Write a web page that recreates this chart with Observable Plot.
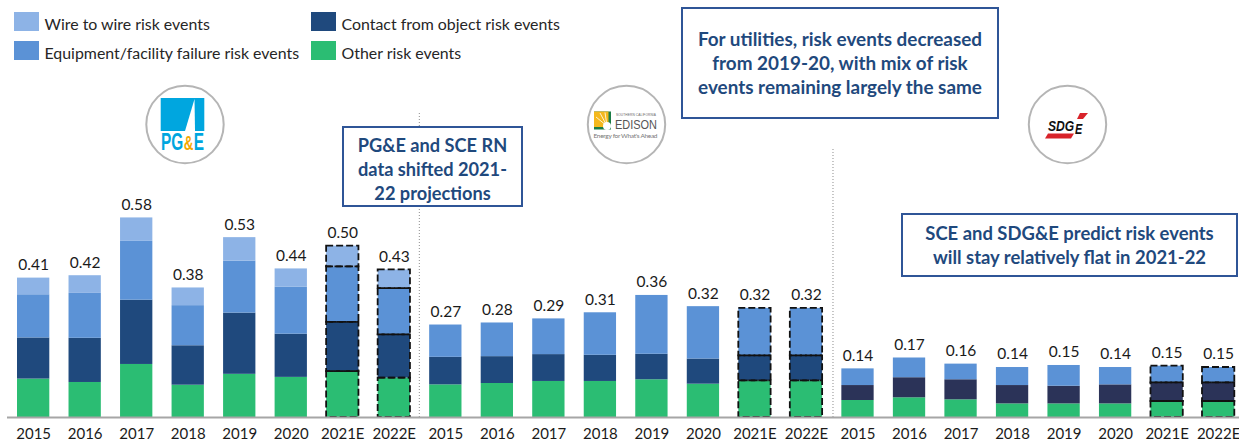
<!DOCTYPE html>
<html><head><meta charset="utf-8">
<script src="https://cdn.jsdelivr.net/npm/d3@7"></script>
<script src="https://cdn.jsdelivr.net/npm/@observablehq/plot@0.6"></script>
<style>
html,body{margin:0;padding:0;background:#fff;overflow:hidden}
#wrap{position:relative;width:1239px;height:443px;font-family:Lato,sans-serif}
#wrap svg{display:block}
.box{position:absolute;box-sizing:border-box;border:2px solid #2f5597;background:#fff;color:#1f497d;font-weight:700;text-align:center;display:flex;align-items:center;justify-content:center;line-height:24px}
.sw{position:absolute;width:25px;height:19px}
.lg{position:absolute;font-size:15.9px;color:#262626;line-height:20px;white-space:nowrap}
</style></head><body><div id="wrap"></div>
<script>
const years = ["2015","2016","2017","2018","2019","2020","2021E","2022E"];
const utilities = ["PG&E","SCE","SDG&E"];
const totals = {
  "PG&E": [0.41,0.42,0.58,0.38,0.53,0.44,0.50,0.43],
  "SCE": [0.27,0.28,0.29,0.31,0.36,0.32,0.32,0.32],
  "SDG&E": [0.14,0.17,0.16,0.14,0.15,0.14,0.15,0.15]
};
const other = {
  "PG&E": [.113,.103,.156,.095,.127,.118,.135,.116],
  "SCE": [.096,.100,.106,.106,.111,.098,.108,.108],
  "SDG&E": [.050,.058,.052,.040,.040,.040,.047,.047]
};
const contact = {
  "PG&E": [.121,.130,.189,.116,.180,.127,.145,.127],
  "SCE": [.081,.079,.079,.077,.075,.074,.073,.073],
  "SDG&E": [.044,.059,.059,.054,.052,.056,.055,.055]
};
const equipment = {
  "PG&E": [.127,.132,.173,.118,.153,.138,.163,.136],
  "SCE": [.095,.099,.105,.125,.173,.154,.140,.140],
  "SDG&E": [.049,.058,.046,.053,.061,.051,.049,.045]
};
const wire = {
  "PG&E": [.049,.052,.069,.052,.069,.054,.061,.055],
  "SCE": [0,0,0,0,0,0,0,0],
  "SDG&E": [0,0,0,0,0,0,0,0]
};
const seriesNames = ["Other risk events","Contact from object risk events","Equipment/facility failure risk events","Wire to wire risk events"];
const seriesValues = [other,contact,equipment,wire];
const seriesColors = ["#2bbd73","#1f497d","#5b92d6","#8db3e6"];
const sdgeContact = "#2b3358";

const key = (u,y) => u+" "+y;
const domain = utilities.flatMap(u => years.map(y => key(u,y)));
const rows = [];
utilities.forEach(u => years.forEach((y,i) => seriesNames.forEach((s,k) => {
  const value = seriesValues[k][u][i];
  if (value > 0) rows.push({key:key(u,y), utility:u, year:y, series:s, value,
    color:(u==="SDG&E" && k===1) ? sdgeContact : seriesColors[k],
    projected:y.endsWith("E")});
})));
const labels = utilities.flatMap(u => years.map((y,i) => {
  const stackTop = seriesValues.reduce((a,s) => a + s[u][i], 0);
  return {key:key(u,y), top:stackTop, text:totals[u][i].toFixed(2)};
}));
const stack = {x:"key", y:"value", z:"series", order:seriesNames};
const chart = Plot.plot({
  width:1239, height:443,
  marginLeft:17, marginRight:4.7, marginTop:0, marginBottom:26,
  style:{fontFamily:"Lato, sans-serif", background:"transparent"},
  x:{domain, paddingInner:0.373, paddingOuter:0, round:false, label:null},
  y:{domain:[0,417/340], axis:null},
  marks:[
    Plot.ruleX(["SCE 2015"],{x:d=>d,y1:0,y2:0.897,dx:-26.5,stroke:"#8c8c8c",strokeDasharray:"1,2",strokeWidth:1}),
    Plot.ruleX(["SDG&E 2015"],{x:d=>d,y1:0,y2:0.79,dx:-25,stroke:"#8c8c8c",strokeDasharray:"1,2",strokeWidth:1}),
    Plot.barY(rows, Plot.stackY({...stack, fill:"color"})),
    Plot.barY(rows.filter(d=>d.projected), Plot.stackY({...stack, stroke:"#111", strokeWidth:1.8, strokeDasharray:"7,3", fill:"none"})),
    Plot.ruleY([0],{stroke:"#a6a6a6",strokeWidth:2,insetLeft:-10,insetRight:-4.7}),
    Plot.text(labels,{x:"key",y:"top",text:"text",dy:-13,fontSize:15.5,fill:"#1a1a1a"}),
    Plot.axisX({tickSize:0,tickPadding:11,fontSize:15,tickFormat:d=>d.split(" ")[1],fill:"#1a1a1a",label:null})
  ]
});
const wrap = document.getElementById("wrap");
wrap.appendChild(chart);

function add(cls,style,html){const e=document.createElement("div");e.className=cls;e.style.cssText=style;if(html)e.innerHTML=html;wrap.appendChild(e);}
[["#8db3e6","Wire to wire risk events",14,12],["#5b92d6","Equipment/facility failure risk events",14,41],
 ["#1f497d","Contact from object risk events",311,12],["#2bbd73","Other risk events",311,41]].forEach(([c,t,x,y])=>{
  add("sw",`left:${x}px;top:${y}px;background:${c}`);
  add("lg",`left:${x+30.5}px;top:${y+(y<20?1.5:2)}px`,t);
});
add("box","left:342px;top:126px;width:181px;height:81px;font-size:18.2px;padding-top:4px","<div>PG&amp;E and SCE RN<br>data shifted 2021-<br>22 projections</div>");
add("box","left:681px;top:7px;width:318px;height:112px;font-size:18.9px","<div>For utilities, risk events decreased<br>from 2019-20, with mix of risk<br>events remaining largely the same</div>");
add("box","left:901px;top:213px;width:337px;height:64px;font-size:18.45px","<div>SCE and SDG&amp;E predict risk events<br>will stay relatively flat in 2021-22</div>");
const logos=document.createElement("div");
logos.innerHTML=`<svg width="1239" height="443" style="position:absolute;left:0;top:0;pointer-events:none">
<g fill="#fff" stroke="#b5b5b5" stroke-width="2"><circle cx="185" cy="124.5" r="38.7"/><circle cx="626.5" cy="124.5" r="38.7"/><circle cx="1067.5" cy="124.5" r="38.7"/></g>
<g><rect x="160.7" y="98" width="43.6" height="33" fill="#00a6df"/><path d="M194.5 99 L185 131 L195 131 Z" fill="#fff"/>
<g transform="translate(161,149.5) scale(.67,1)" font-family="'Liberation Sans',sans-serif" font-weight="700" font-size="23">
<text x="0" y="0" fill="#00a6df">PG</text>
<text x="34" y="0" font-size="20" fill="#f5a800">&amp;</text>
<text x="49" y="0" fill="#00a6df">E</text></g></g>
<g><rect x="594" y="111.5" width="17" height="18" fill="#1c7d46"/><rect x="594" y="111.5" width="14.5" height="15.5" fill="#f4b81c"/>
<g stroke="#fff" stroke-width=".8"><path d="M607 126 L596 117M607 126 L600 113M607 126 L605 112.5"/></g><circle cx="607" cy="126" r="4" fill="#fff"/>
<text x="636" y="128.5" text-anchor="middle" font-family="'Liberation Sans',sans-serif" font-size="13" textLength="42" lengthAdjust="spacingAndGlyphs" fill="#555">EDISON</text>
<text x="636" y="116" text-anchor="middle" font-family="'Liberation Sans',sans-serif" font-size="3.2" textLength="40" fill="#666">SOUTHERN CALIFORNIA</text>
<text x="625.5" y="137.5" text-anchor="middle" font-family="Lato,sans-serif" font-size="6.5" textLength="64" fill="#777">Energy for What's Ahead</text></g>
<g><path d="M1045 138.5 L1048 133.5 L1074 133.5 L1071 138.5 Z" fill="#d8232a"/><path d="M1080 113 L1088 113 L1083 119 L1077 119 Z" fill="#d8232a"/>
<g transform="translate(1048,131) scale(.78,1)" font-family="'Liberation Sans',sans-serif" font-weight="700" font-style="italic" fill="#111">
<text x="0" y="0" font-size="15.5">SDG</text>
<text x="34.6" y="3" font-size="14">E</text></g></g>
</svg>`;
wrap.appendChild(logos);
</script></body></html>
